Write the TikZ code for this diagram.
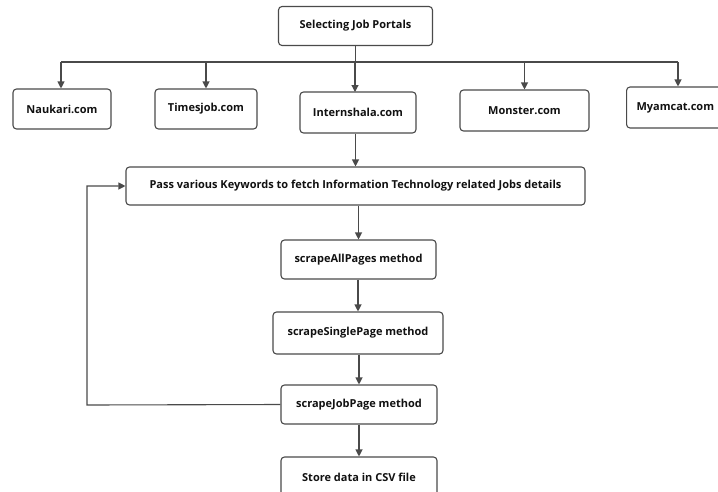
\documentclass[tikz,border=0pt]{standalone}
\usepackage{fontspec}
\setmainfont{Open Sans}
\usetikzlibrary{arrows.meta}
\definecolor{edge}{HTML}{4A4A4A}
\definecolor{txt}{HTML}{111111}
\tikzset{
  box/.style={draw=edge, line width=1.1pt, rounded corners=3.5pt, fill=white,
    font=\fontsize{11}{13}\selectfont\bfseries, text=txt, inner sep=0pt, align=center},
  conn/.style={draw=edge, line width=1.1pt},
  arr/.style={conn, -{Triangle[length=7pt,width=7pt]}}
}
\begin{document}
\begin{tikzpicture}[x=1pt,y=1pt]
\useasboundingbox (0,0) rectangle (718,-491);
\clip (0,0) rectangle (718,-491);
\node[box, minimum width=154, minimum height=39] (sel) at (355.5,-26) {Selecting Job Portals};
\node[box, minimum width=98, minimum height=40] (nauk) at (62,-109) {Naukari.com};
\node[box, minimum width=102, minimum height=40] (times) at (206,-109) {Timesjob.com};
\node[box, minimum width=116, minimum height=41] (intern) at (358,-112.5) {Internshala.com};
\node[box, minimum width=129, minimum height=41] (monster) at (524.5,-110.5) {Monster.com};
\node[box, minimum width=112, minimum height=41, anchor=west] (myam) at (626,-107.5) {\makebox[112pt][l]{\hspace*{10pt}Myamcat.com}};
\node[box, minimum width=459, minimum height=38] (pass) at (355.5,-186) {Pass various Keywords to fetch Information Technology related Jobs details};
\node[box, minimum width=155, minimum height=39] (allp) at (358.5,-259.5) {scrapeAllPages method};
\node[box, minimum width=170, minimum height=42] (single) at (358,-333) {scrapeSinglePage method};
\node[box, minimum width=156, minimum height=39] (job) at (359,-404.5) {scrapeJobPage method};
\node[box, minimum width=156, minimum height=40] (store) at (359,-477) {Store data in CSV file};
\coordinate (busL) at (61,-62);
\coordinate (busR) at (678,-62);
\coordinate (fb) at (87,-405);
\draw[conn] (sel.south) -- (sel.south |- busL);
\draw[conn] (busL) -- (busR);
\draw[arr] (busL) -- (busL |- nauk.north);
\draw[arr] (times.north |- busL) -- (times.north);
\draw[arr] (355,-62) -- (355,-92);
\draw[arr] (monster.north |- busL) -- (monster.north);
\draw[arr] (busR) -- (busR |- myam.north);
\draw[arr] (intern.south -| pass.north) -- (pass.north);
\draw[arr] (pass.south -| allp.north) -- (allp.north);
\draw[arr] (allp.south -| single.north) -- (single.north);
\draw[arr] (single.south -| job.north) -- (job.north);
\draw[arr] (job.south -| store.north) -- (store.north);
\draw[arr] (job.west) -- (fb) |- (pass.west);
\end{tikzpicture}
\end{document}
